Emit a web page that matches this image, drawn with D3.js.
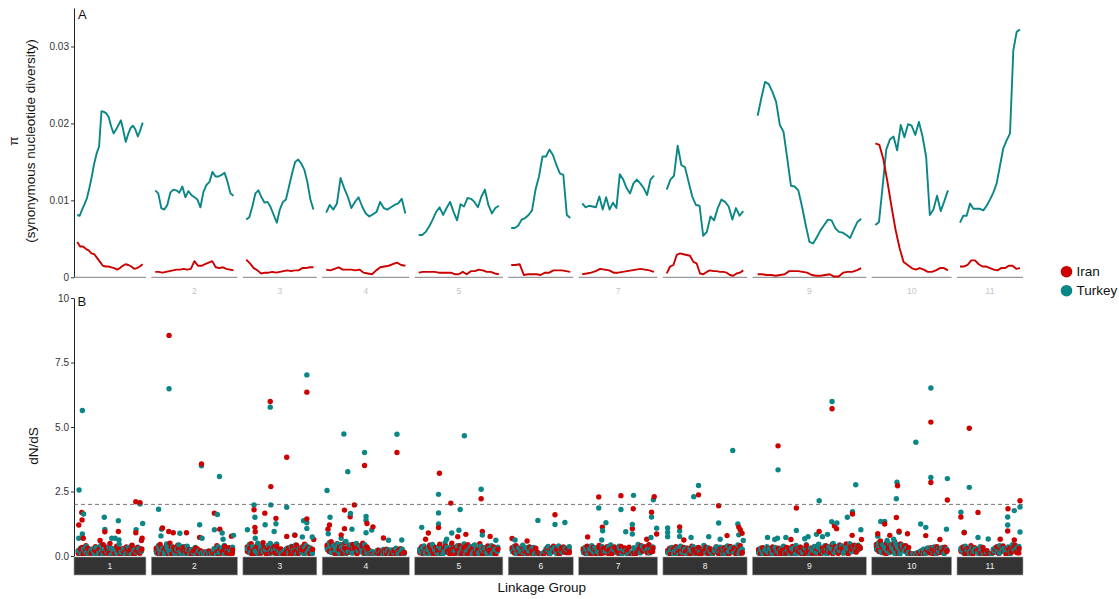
<!DOCTYPE html>
<html>
<head>
<meta charset="utf-8">
<script src="https://cdn.jsdelivr.net/npm/d3@7"></script>
<style>
  body { margin: 0; background: #fff; }
  svg { display: block; font-family: "Liberation Sans", Arial, Helvetica, sans-serif; }
</style>
</head>
<body>
<svg id="chart" width="1119" height="599"></svg>
<script>
// ---- Linkage groups (length in Mb) ----
const lgNames  = ["1","2","3","4","5","6","7","8","9","10","11"];
const lgLength = [21.8, 26.1, 22.4, 26.4, 26.7, 19.7, 23.9, 25.5, 34.5, 24.2, 20.0];
const stripTextA = ["2","3","4","5","7","9","10","11"];

// ---- Panel A: synonymous nucleotide diversity (pi) in sliding windows ----
const piTurkey = [
  [0.0081,0.0080,0.0088,0.0095,0.0103,0.0116,0.0131,0.0148,0.0161,0.0170,0.0216,0.0215,0.0213,0.0208,0.0196,0.0187,0.0192,0.0198,0.0204,0.0191,0.0176,0.0186,0.0194,0.0197,0.0192,0.0183,0.0191,0.0201],
  [0.0113,0.0109,0.0090,0.0088,0.0094,0.0110,0.0114,0.0113,0.0110,0.0118,0.0104,0.0112,0.0107,0.0104,0.0101,0.0091,0.0111,0.0120,0.0124,0.0137,0.0131,0.0131,0.0133,0.0136,0.0124,0.0109,0.0106],
  [0.0075,0.0078,0.0092,0.0109,0.0113,0.0104,0.0097,0.0098,0.0091,0.0081,0.0071,0.0088,0.0098,0.0101,0.0118,0.0135,0.0150,0.0153,0.0148,0.0140,0.0124,0.0101,0.0088],
  [0.0084,0.0094,0.0088,0.0096,0.0129,0.0116,0.0105,0.0090,0.0098,0.0104,0.0092,0.0083,0.0079,0.0082,0.0085,0.0098,0.0090,0.0088,0.0091,0.0094,0.0096,0.0102,0.0083],
  [0.0055,0.0055,0.0059,0.0066,0.0075,0.0085,0.0091,0.0081,0.0090,0.0098,0.0085,0.0074,0.0095,0.0092,0.0103,0.0102,0.0098,0.0091,0.0105,0.0114,0.0094,0.0083,0.0090,0.0093],
  [0.0064,0.0064,0.0067,0.0075,0.0077,0.0081,0.0087,0.0114,0.0131,0.0157,0.0157,0.0166,0.0159,0.0146,0.0135,0.0133,0.0081,0.0077],
  [0.0096,0.0091,0.0093,0.0092,0.0091,0.0105,0.0088,0.0104,0.0088,0.0097,0.0090,0.0134,0.0127,0.0116,0.0109,0.0122,0.0127,0.0122,0.0116,0.0107,0.0127,0.0132],
  [0.0114,0.0127,0.0132,0.0171,0.0146,0.0143,0.0124,0.0105,0.0094,0.0093,0.0054,0.0059,0.0079,0.0074,0.0090,0.0101,0.0098,0.0092,0.0075,0.0090,0.0080,0.0086],
  [0.0210,0.0233,0.0254,0.0251,0.0241,0.0228,0.0198,0.0189,0.0155,0.0119,0.0118,0.0113,0.0092,0.0068,0.0046,0.0044,0.0052,0.0061,0.0068,0.0075,0.0074,0.0064,0.0059,0.0058,0.0055,0.0051,0.0062,0.0072,0.0076],
  [0.0068,0.0072,0.0118,0.0166,0.0179,0.0183,0.0165,0.0198,0.0182,0.0199,0.0197,0.0185,0.0202,0.0183,0.0156,0.0081,0.0088,0.0106,0.0086,0.0099,0.0113],
  [0.0071,0.0080,0.0080,0.0096,0.0089,0.0089,0.0089,0.0087,0.0093,0.0101,0.0110,0.0122,0.0145,0.0168,0.0178,0.0187,0.0295,0.0319,0.0322]
];
const piIran = [
  [0.0046,0.0040,0.0040,0.0037,0.0035,0.0031,0.0030,0.0025,0.0020,0.0015,0.0014,0.0014,0.0013,0.0012,0.0010,0.0012,0.0015,0.0017,0.0016,0.0014,0.0011,0.0012,0.0014,0.0017],
  [0.0007,0.0007,0.0006,0.0007,0.0008,0.0009,0.0010,0.0010,0.0011,0.0010,0.0011,0.0021,0.0015,0.0015,0.0017,0.0019,0.0021,0.0013,0.0012,0.0013,0.0011,0.0010,0.0009],
  [0.0023,0.0018,0.0012,0.0009,0.0005,0.0006,0.0006,0.0007,0.0006,0.0007,0.0008,0.0009,0.0008,0.0009,0.0009,0.0012,0.0012,0.0013,0.0013],
  [0.0010,0.0009,0.0011,0.0013,0.0010,0.0010,0.0010,0.0009,0.0010,0.0006,0.0005,0.0004,0.0009,0.0013,0.0014,0.0015,0.0017,0.0019,0.0016,0.0015],
  [0.0006,0.0007,0.0007,0.0007,0.0007,0.0006,0.0006,0.0006,0.0006,0.0004,0.0004,0.0007,0.0004,0.0008,0.0008,0.0010,0.0009,0.0007,0.0007,0.0005,0.0004],
  [0.0016,0.0016,0.0017,0.0003,0.0004,0.0004,0.0004,0.0003,0.0006,0.0006,0.0009,0.0009,0.0009,0.0008,0.0007],
  [0.0004,0.0005,0.0006,0.0008,0.0011,0.0010,0.0009,0.0006,0.0006,0.0007,0.0008,0.0009,0.0010,0.0011,0.0010,0.0009,0.0007],
  [0.0005,0.0014,0.0016,0.0029,0.0031,0.0030,0.0029,0.0028,0.0020,0.0018,0.0005,0.0004,0.0007,0.0009,0.0008,0.0008,0.0007,0.0007,0.0006,0.0003,0.0002,0.0005,0.0006,0.0009],
  [0.0004,0.0004,0.0003,0.0003,0.0002,0.0003,0.0004,0.0008,0.0008,0.0008,0.0007,0.0006,0.0003,0.0002,0.0002,0.0003,0.0004,0.0001,0.0001,0.0006,0.0007,0.0007,0.0009,0.0012],
  [0.0174,0.0172,0.0153,0.0124,0.0092,0.0062,0.0038,0.0020,0.0016,0.0012,0.0010,0.0012,0.0010,0.0007,0.0007,0.0009,0.0012,0.0012,0.0009],
  [0.0014,0.0014,0.0016,0.0022,0.0022,0.0017,0.0014,0.0014,0.0012,0.0010,0.0009,0.0012,0.0012,0.0015,0.0015,0.0011,0.0012]
];
const piTicks = [0, 0.01, 0.02, 0.03];
const piTickLabels = ["0", "0.01", "0.02", "0.03"];

// ---- Panel B: per-gene dN/dS, bulk of genes (low values) in gene order ----
const lowIran = [
  [0.21,0.05,0.33,0.12,0.40,0.08,0.26,0.15,0.02,0.36,0.18,0.29,0.07,0.44,0.13,0.24,0.03,0.31,0.19,0.10,0.38,0.22,0.06,0.28,0.14,0.35,0.09,0.25,0.42,0.04,0.17,0.32,0.11,0.27],
  [0.30,0.12,0.45,0.06,0.25,0.38,0.15,0.50,0.09,0.33,0.21,0.42,0.04,0.28,0.17,0.36,0.11,0.24,0.07,0.19,0.13,0.27,0.05,0.16,0.10,0.16,0.08,0.20,0.05,0.14,0.09,0.40,0.03,0.26,0.18,0.37,0.12,0.32,0.06,0.23],
  [0.35,0.14,0.48,0.22,0.06,0.40,0.28,0.11,0.52,0.19,0.33,0.08,0.44,0.25,0.15,0.38,0.04,0.27,0.12,0.09,0.20,0.31,0.07,0.36,0.17,0.42,0.10,0.29,0.23,0.46,0.13,0.34,0.05,0.26],
  [0.42,0.18,0.55,0.30,0.10,0.48,0.25,0.37,0.06,0.52,0.21,0.33,0.14,0.45,0.28,0.09,0.40,0.19,0.50,0.12,0.35,0.23,0.04,0.08,0.03,0.15,0.22,0.07,0.18,0.12,0.26,0.05,0.20,0.14,0.24,0.09,0.17,0.28,0.06,0.13],
  [0.20,0.36,0.08,0.28,0.15,0.42,0.24,0.05,0.33,0.18,0.46,0.11,0.29,0.38,0.14,0.25,0.50,0.09,0.34,0.21,0.40,0.07,0.31,0.17,0.44,0.12,0.27,0.37,0.04,0.22,0.48,0.16,0.32,0.10,0.39,0.23,0.13,0.35,0.06,0.26],
  [0.32,0.15,0.40,0.24,0.08,0.36,0.19,0.28,0.11,0.34,0.22,0.05,0.30,0.14,0.06,0.03,0.09,0.20,0.33,0.12,0.27,0.38,0.16,0.31,0.07,0.25,0.35,0.18,0.29,0.13],
  [0.28,0.12,0.38,0.20,0.06,0.33,0.24,0.15,0.41,0.09,0.30,0.18,0.36,0.04,0.26,0.14,0.32,0.21,0.08,0.37,0.17,0.29,0.11,0.34,0.05,0.10,0.03,0.13,0.27,0.40,0.19,0.35,0.23,0.44,0.16,0.31],
  [0.15,0.30,0.06,0.24,0.36,0.12,0.20,0.04,0.33,0.18,0.27,0.09,0.38,0.14,0.22,0.31,0.07,0.25,0.16,0.34,0.11,0.28,0.03,0.19,0.35,0.13,0.26,0.08,0.32,0.21,0.10,0.37,0.17,0.29,0.05,0.23,0.40,0.14],
  [0.25,0.10,0.32,0.18,0.05,0.28,0.14,0.35,0.21,0.08,0.30,0.16,0.26,0.03,0.33,0.12,0.22,0.37,0.09,0.27,0.19,0.34,0.06,0.24,0.40,0.15,0.29,0.11,0.36,0.20,0.43,0.07,0.31,0.17,0.39,0.25,0.13,0.45,0.22,0.33,0.10,0.41,0.28,0.18,0.47,0.08,0.35,0.26,0.42,0.15,0.38,0.30],
  [0.45,0.22,0.58,0.35,0.12,0.50,0.28,0.40,0.16,0.55,0.31,0.08,0.47,0.25,0.38,0.19,0.33,0.10,0.06,0.04,0.09,0.14,0.05,0.20,0.11,0.27,0.16,0.32,0.08,0.23,0.36,0.13,0.29,0.18,0.34,0.21],
  [0.22,0.35,0.10,0.28,0.16,0.40,0.07,0.31,0.19,0.25,0.12,0.33,0.05,0.21,0.08,0.03,0.14,0.27,0.36,0.11,0.24,0.39,0.17,0.30,0.06,0.34,0.20,0.42,0.13,0.29]
];
const lowTurkey = [
  [0.14,0.30,0.04,0.22,0.37,0.09,0.18,0.27,0.02,0.33,0.12,0.41,0.07,0.25,0.16,0.35,0.05,0.20,0.29,0.10,0.46,0.15,0.24,0.03,0.31,0.13,0.38,0.08,0.21,0.34,0.11,0.26],
  [0.18,0.40,0.08,0.29,0.14,0.47,0.22,0.05,0.35,0.12,0.26,0.43,0.09,0.31,0.17,0.38,0.03,0.24,0.13,0.33,0.07,0.20,0.11,0.15,0.06,0.18,0.09,0.12,0.28,0.04,0.36,0.16,0.25,0.41,0.10,0.30,0.19,0.34],
  [0.24,0.45,0.09,0.32,0.17,0.50,0.13,0.39,0.27,0.06,0.41,0.20,0.34,0.11,0.47,0.16,0.05,0.14,0.22,0.30,0.08,0.37,0.19,0.43,0.12,0.28,0.35,0.07,0.40,0.18,0.31,0.10],
  [0.30,0.52,0.14,0.40,0.22,0.47,0.08,0.35,0.26,0.56,0.17,0.43,0.11,0.31,0.49,0.20,0.38,0.13,0.44,0.27,0.09,0.05,0.02,0.12,0.21,0.06,0.16,0.25,0.10,0.19,0.03,0.23,0.14,0.30,0.08,0.18,0.26,0.11],
  [0.27,0.10,0.39,0.19,0.33,0.05,0.45,0.23,0.14,0.36,0.28,0.08,0.52,0.17,0.31,0.41,0.12,0.25,0.37,0.03,0.30,0.47,0.16,0.21,0.35,0.09,0.43,0.26,0.13,0.38,0.20,0.32,0.07,0.29,0.40,0.15,0.24,0.34],
  [0.22,0.38,0.10,0.30,0.17,0.42,0.26,0.06,0.35,0.20,0.33,0.13,0.04,0.08,0.02,0.15,0.28,0.37,0.11,0.24,0.32,0.09,0.39,0.21,0.14,0.30,0.25,0.36],
  [0.19,0.34,0.07,0.27,0.40,0.14,0.31,0.22,0.05,0.36,0.17,0.29,0.10,0.43,0.24,0.33,0.13,0.38,0.08,0.26,0.20,0.02,0.07,0.15,0.32,0.21,0.45,0.12,0.37,0.28,0.18,0.41,0.25,0.35],
  [0.22,0.09,0.33,0.17,0.27,0.05,0.38,0.14,0.25,0.31,0.10,0.20,0.36,0.07,0.29,0.15,0.24,0.41,0.12,0.32,0.18,0.04,0.26,0.35,0.11,0.21,0.30,0.08,0.39,0.16,0.28,0.34,0.13,0.43,0.19,0.26],
  [0.16,0.30,0.07,0.23,0.36,0.12,0.27,0.04,0.33,0.19,0.10,0.29,0.38,0.14,0.25,0.06,0.31,0.21,0.41,0.11,0.34,0.17,0.26,0.44,0.09,0.30,0.22,0.37,0.13,0.46,0.24,0.18,0.40,0.08,0.35,0.28,0.49,0.15,0.32,0.43,0.20,0.11,0.38,0.27,0.48,0.16,0.34,0.23,0.42,0.31],
  [0.36,0.52,0.18,0.44,0.29,0.60,0.13,0.40,0.24,0.48,0.33,0.07,0.42,0.21,0.30,0.15,0.05,0.03,0.08,0.12,0.04,0.18,0.26,0.10,0.31,0.14,0.22,0.35,0.09,0.28,0.17,0.33,0.12,0.25],
  [0.30,0.14,0.38,0.22,0.06,0.33,0.18,0.27,0.10,0.36,0.24,0.04,0.15,0.02,0.09,0.26,0.32,0.13,0.40,0.20,0.29,0.08,0.35,0.17,0.44,0.23,0.31,0.37]
];
// remaining low-dN/dS genes of each group, also in gene order
const lowIran2 = [
  [0.10,0.25,0.06,0.18,0.30,0.13,0.03,0.22,0.15,0.28,0.08,0.19,0.34,0.11,0.24,0.05,0.17,0.29,0.12,0.21,0.07,0.26,0.16,0.32,0.09,0.20,0.14,0.23],
  [0.22,0.09,0.31,0.16,0.26,0.05,0.35,0.13,0.20,0.28,0.10,0.33,0.18,0.07,0.24,0.14,0.30,0.11,0.21,0.06,0.12,0.04,0.09,0.13,0.07,0.19,0.27,0.12,0.23,0.16,0.29,0.10],
  [0.17,0.30,0.08,0.25,0.38,0.12,0.21,0.33,0.06,0.27,0.15,0.36,0.10,0.23,0.18,0.07,0.13,0.26,0.20,0.31,0.09,0.24,0.14,0.34,0.19,0.28,0.11,0.22],
  [0.35,0.16,0.44,0.26,0.08,0.38,0.21,0.31,0.13,0.42,0.24,0.34,0.11,0.29,0.40,0.18,0.33,0.05,0.02,0.10,0.16,0.06,0.13,0.21,0.09,0.17,0.04,0.19,0.11,0.23,0.07,0.15],
  [0.13,0.27,0.05,0.21,0.34,0.17,0.09,0.30,0.23,0.14,0.38,0.19,0.07,0.26,0.32,0.11,0.22,0.16,0.35,0.08,0.25,0.29,0.12,0.20,0.36,0.06,0.18,0.28,0.15,0.24,0.10,0.31],
  [0.24,0.11,0.30,0.18,0.06,0.27,0.15,0.33,0.09,0.21,0.04,0.07,0.02,0.12,0.22,0.08,0.29,0.16,0.25,0.10,0.31,0.19,0.13,0.26],
  [0.21,0.09,0.30,0.15,0.26,0.05,0.33,0.18,0.12,0.28,0.22,0.07,0.35,0.16,0.24,0.10,0.31,0.19,0.06,0.03,0.08,0.14,0.27,0.20,0.34,0.12,0.25,0.17],
  [0.20,0.08,0.26,0.14,0.31,0.05,0.22,0.17,0.28,0.10,0.24,0.13,0.33,0.07,0.19,0.27,0.11,0.23,0.15,0.30,0.04,0.21,0.12,0.26,0.09,0.18,0.29,0.14,0.24,0.11],
  [0.18,0.07,0.24,0.13,0.29,0.09,0.20,0.15,0.26,0.04,0.22,0.11,0.30,0.17,0.08,0.25,0.19,0.12,0.28,0.06,0.23,0.16,0.32,0.10,0.27,0.21,0.14,0.34,0.18,0.25,0.09,0.36,0.20,0.29,0.13,0.38,0.24,0.17,0.33,0.27,0.22,0.35],
  [0.33,0.17,0.42,0.26,0.09,0.38,0.21,0.46,0.30,0.14,0.36,0.24,0.40,0.19,0.05,0.03,0.07,0.02,0.10,0.15,0.06,0.22,0.12,0.26,0.09,0.19,0.28,0.14,0.24,0.17],
  [0.17,0.28,0.08,0.23,0.13,0.32,0.19,0.26,0.10,0.21,0.05,0.09,0.03,0.15,0.24,0.11,0.29,0.18,0.06,0.25,0.14,0.31,0.20,0.12]
];
const lowTurkey2 = [
  [0.20,0.08,0.27,0.13,0.04,0.23,0.16,0.31,0.10,0.19,0.06,0.25,0.14,0.29,0.09,0.21,0.03,0.17,0.26,0.12,0.33,0.07,0.22,0.15,0.28,0.18],
  [0.12,0.27,0.19,0.06,0.32,0.15,0.24,0.09,0.29,0.17,0.36,0.08,0.22,0.13,0.26,0.04,0.20,0.11,0.08,0.14,0.05,0.10,0.18,0.25,0.13,0.31,0.07,0.21,0.28,0.15],
  [0.28,0.13,0.36,0.20,0.07,0.31,0.17,0.25,0.40,0.11,0.22,0.29,0.05,0.10,0.18,0.26,0.13,0.33,0.21,0.08,0.27,0.15,0.35,0.12,0.24,0.19],
  [0.24,0.40,0.12,0.33,0.19,0.45,0.27,0.09,0.36,0.21,0.30,0.15,0.38,0.25,0.06,0.13,0.03,0.18,0.09,0.22,0.12,0.05,0.16,0.24,0.10,0.20,0.07,0.14,0.21,0.11],
  [0.19,0.31,0.09,0.24,0.14,0.37,0.22,0.06,0.28,0.17,0.33,0.11,0.26,0.20,0.40,0.13,0.30,0.07,0.23,0.35,0.16,0.27,0.10,0.32,0.21,0.15,0.29,0.08,0.25,0.18],
  [0.16,0.28,0.08,0.23,0.13,0.32,0.19,0.26,0.06,0.11,0.03,0.08,0.17,0.24,0.12,0.30,0.20,0.09,0.27,0.14,0.22,0.18],
  [0.13,0.26,0.08,0.22,0.31,0.16,0.04,0.28,0.19,0.34,0.11,0.24,0.17,0.30,0.09,0.21,0.05,0.10,0.02,0.14,0.27,0.18,0.33,0.23,0.12,0.29],
  [0.12,0.25,0.07,0.19,0.30,0.14,0.22,0.04,0.27,0.16,0.09,0.32,0.18,0.24,0.11,0.28,0.06,0.20,0.15,0.34,0.10,0.23,0.17,0.29,0.13,0.21,0.08,0.26],
  [0.11,0.22,0.05,0.19,0.27,0.14,0.08,0.25,0.17,0.31,0.10,0.21,0.13,0.28,0.06,0.24,0.18,0.12,0.30,0.20,0.09,0.26,0.16,0.33,0.23,0.11,0.29,0.19,0.36,0.14,0.27,0.22,0.39,0.17,0.31,0.25,0.34,0.20,0.41,0.28],
  [0.25,0.41,0.13,0.34,0.20,0.47,0.28,0.10,0.38,0.22,0.32,0.16,0.06,0.04,0.09,0.02,0.13,0.20,0.07,0.25,0.15,0.29,0.11,0.23,0.18,0.30,0.09,0.21],
  [0.24,0.10,0.30,0.17,0.06,0.26,0.14,0.21,0.08,0.04,0.11,0.02,0.19,0.27,0.12,0.33,0.16,0.23,0.09,0.29,0.18,0.25]
];

// ---- Panel B: genes with elevated dN/dS  [linkage group, position (Mb), population, dN/dS] ----
const highGenes = [
  [1,0.5,"T",0.69],[1,0.5,"I",1.20],[1,0.6,"T",2.56],[1,1.7,"T",5.64],[1,1.6,"I",1.40],[1,1.5,"I",1.69],[1,2.1,"T",1.63],[1,1.7,"T",0.85],[1,2.0,"I",0.69],[1,7.6,"I",0.60],[1,9.0,"T",1.50],[1,9.2,"T",1.03],[1,9.2,"I",0.94],[1,10.9,"I",0.49],[1,11.5,"T",0.69],[1,12.6,"T",0.69],[1,13.7,"T",1.37],[1,13.7,"I",0.95],[1,13.9,"T",0.62],[1,19.6,"T",1.02],[1,19.5,"I",0.90],[1,19.5,"I",2.10],[1,20.9,"T",2.02],[1,20.9,"I",2.07],[1,21.8,"T",1.26],[1,21.6,"I",0.69],[1,21.4,"I",0.60],
  [2,1.1,"T",1.81],[2,1.9,"T",0.78],[2,2.1,"T",1.04],[2,2.4,"I",1.09],[2,4.6,"T",6.48],[2,4.6,"I",8.55],[2,4.5,"I",0.95],[2,6.0,"I",0.90],[2,8.2,"T",0.88],[2,10.4,"I",0.90],[2,14.8,"T",1.21],[2,14.8,"I",0.72],[2,15.6,"T",0.69],[2,15.4,"T",3.50],[2,15.4,"I",3.57],[2,19.7,"T",1.02],[2,19.7,"I",1.66],[2,20.7,"T",1.61],[2,21.4,"T",3.08],[2,21.5,"I",1.04],[2,22.3,"T",0.89],[2,22.6,"T",0.65],[2,25.4,"I",0.77],[2,26.1,"T",0.80],
  [3,0.4,"T",1.02],[3,2.6,"T",1.98],[3,2.6,"I",1.79],[3,2.9,"T",1.50],[3,2.9,"I",1.11],[3,3.0,"I",0.94],[3,3.0,"T",0.69],[3,6.2,"I",1.66],[3,6.3,"T",1.21],[3,8.0,"T",5.77],[3,8.0,"I",5.99],[3,8.2,"T",1.98],[3,8.2,"I",2.69],[3,8.0,"T",0.49],[3,9.3,"T",0.95],[3,9.9,"T",1.25],[3,9.9,"I",1.46],[3,13.5,"T",1.89],[3,13.5,"I",3.83],[3,13.5,"I",0.76],[3,16.2,"T",0.82],[3,16.2,"I",0.80],[3,18.7,"T",0.74],[3,19.1,"T",1.37],[3,20.2,"T",1.29],[3,20.2,"T",1.07],[3,20.2,"I",1.44],[3,20.2,"T",7.02],[3,20.2,"I",6.35],[3,22.5,"I",0.64],[3,22.0,"T",0.74],
  [4,0.3,"T",2.54],[4,0.6,"I",1.04],[4,0.7,"T",0.86],[4,1.1,"I",1.20],[4,1.3,"T",1.50],[4,5.0,"T",0.69],[4,5.0,"I",0.82],[4,6.1,"I",1.06],[4,6.1,"I",1.78],[4,5.9,"T",4.73],[4,7.2,"T",3.27],[4,8.0,"I",1.52],[4,8.1,"T",1.65],[4,8.6,"T",1.04],[4,9.4,"I",1.98],[4,12.8,"T",4.01],[4,12.8,"I",3.51],[4,13.3,"T",1.53],[4,13.3,"T",1.39],[4,13.6,"I",1.26],[4,13.3,"T",0.90],[4,15.2,"T",1.01],[4,15.6,"I",1.13],[4,19.1,"I",0.70],[4,20.8,"T",0.61],[4,23.6,"T",4.72],[4,23.6,"I",4.01],[4,25.2,"T",0.62],
  [5,1.0,"T",1.11],[5,2.3,"I",0.65],[5,3.2,"I",0.89],[5,6.6,"T",1.24],[5,6.6,"I",1.10],[5,6.6,"T",1.67],[5,6.6,"T",2.39],[5,6.9,"I",3.21],[5,9.3,"T",0.65],[5,11.0,"T",0.89],[5,10.7,"I",2.05],[5,13.0,"I",0.75],[5,13.4,"T",1.00],[5,13.8,"T",1.80],[5,15.2,"T",4.66],[5,15.7,"I",0.84],[5,20.8,"T",2.59],[5,20.8,"I",2.22],[5,21.2,"I",0.95],[5,21.2,"T",0.81],[5,23.8,"I",0.76],[5,25.7,"T",0.61],
  [6,0.3,"I",0.68],[6,1.3,"T",0.62],[6,5.3,"I",0.58],[6,8.9,"T",1.38],[6,14.6,"T",1.22],[6,14.6,"I",1.60],[6,17.9,"T",1.30],
  [7,1.8,"I",0.74],[7,5.5,"T",1.86],[7,5.5,"I",2.29],[7,6.5,"T",0.62],[7,6.7,"I",1.12],[7,6.8,"T",0.98],[7,7.9,"T",1.29],[7,12.9,"T",1.80],[7,12.9,"I",2.34],[7,14.5,"T",0.94],[7,16.7,"T",0.85],[7,16.7,"I",1.06],[7,16.7,"T",1.22],[7,17.0,"I",1.83],[7,17.1,"T",2.35],[7,21.5,"I",0.65],[7,22.9,"T",0.72],[7,23.1,"T",1.51],[7,23.1,"I",1.70],[7,23.7,"T",2.18],[7,24.0,"I",2.30],[7,24.8,"I",0.85],[7,24.8,"T",1.08],
  [8,0.3,"T",0.75],[8,0.3,"T",0.91],[8,0.3,"T",1.09],[8,4.3,"T",0.76],[8,4.3,"T",0.97],[8,4.3,"I",1.13],[8,5.7,"I",0.62],[8,8.1,"T",0.72],[8,9.0,"T",2.30],[8,10.6,"I",2.37],[8,10.6,"T",2.73],[8,14.0,"T",0.75],[8,17.8,"T",0.65],[8,17.3,"T",1.28],[8,17.3,"I",1.95],[8,20.1,"I",0.79],[8,22.0,"T",4.09],[8,23.7,"T",1.24],[8,24.0,"T",0.82],[8,24.0,"I",1.12],[8,24.5,"I",1.02],[8,25.1,"I",0.88],[8,25.5,"T",0.60],
  [9,3.3,"T",0.72],[9,5.7,"T",0.64],[9,6.6,"T",0.69],[9,6.8,"T",3.34],[9,6.8,"I",4.27],[9,9.4,"T",0.72],[9,11.1,"I",0.64],[9,12.9,"T",0.99],[9,12.9,"I",1.86],[9,15.7,"T",0.67],[9,16.8,"T",0.75],[9,19.6,"T",0.84],[9,20.5,"T",2.14],[9,20.5,"I",0.95],[9,21.6,"T",0.75],[9,23.3,"T",0.84],[9,24.7,"T",1.33],[9,24.8,"T",5.99],[9,24.8,"I",5.71],[9,25.6,"I",1.16],[9,26.3,"I",1.06],[9,26.4,"T",1.28],[9,29.9,"T",1.50],[9,31.6,"T",1.72],[9,31.6,"I",1.63],[9,31.5,"I",0.80],[9,32.7,"T",2.76],[9,34.4,"T",1.02],[9,34.6,"I",0.64],
  [10,0.8,"T",0.77],[10,0.8,"I",0.86],[10,1.8,"T",1.34],[10,3.1,"T",1.34],[10,3.1,"I",1.24],[10,4.8,"I",0.80],[10,6.1,"T",0.65],[10,7.0,"T",2.22],[10,7.0,"I",1.49],[10,7.2,"T",2.86],[10,7.4,"I",2.72],[10,7.9,"T",0.92],[10,7.9,"I",0.96],[10,10.7,"I",0.86],[10,13.5,"T",4.41],[10,15.1,"T",1.24],[10,16.8,"T",1.11],[10,16.8,"I",0.79],[10,18.5,"T",6.51],[10,18.5,"I",5.19],[10,18.5,"T",3.04],[10,18.5,"I",2.85],[10,21.5,"I",0.64],[10,23.7,"T",1.04],[10,24.0,"T",3.00],[10,24.0,"I",2.17],
  [11,0.3,"T",1.70],[11,0.3,"I",1.51],[11,1.4,"T",0.92],[11,1.4,"I",0.90],[11,3.1,"T",2.66],[11,3.1,"I",4.95],[11,6.0,"T",0.72],[11,6.0,"I",1.69],[11,9.4,"T",0.66],[11,13.4,"I",0.65],[11,15.9,"T",1.20],[11,15.9,"I",0.97],[11,15.9,"T",1.51],[11,16.0,"I",1.83],[11,18.1,"T",1.76],[11,18.1,"I",0.62],[11,20.0,"T",0.93],[11,20.0,"T",1.90],[11,20.0,"I",2.14]
];
const dndsTicks = [0, 2.5, 5, 7.5, 10];
const dndsTickLabels = ["0.0", "2.5", "5.0", "7.5", "10"];
const dndsThreshold = 2;

const populations = ["Iran", "Turkey"];
const popColor = { Iran: "#cd0000", Turkey: "#0b8686" };
const popCode = { I: "Iran", T: "Turkey" };

// ---- Layout ----
const svg = d3.select("#chart");
const plotLeft = 74, plotRight = 1023, panelGap = 5.4;
const totalSpan = d3.sum(lgLength, l => l * 1.1);
const pxPerMb = (plotRight - plotLeft - panelGap * (lgLength.length - 1)) / totalSpan;

let cursor = plotLeft;
const facets = lgLength.map((len, i) => {
  const w = len * 1.1 * pxPerMb;
  const f = {
    name: lgNames[i], len, x0: cursor, w,
    x: d3.scaleLinear().domain([-0.05 * len, 1.05 * len]).range([cursor, cursor + w])
  };
  cursor += w + panelGap;
  return f;
});

function styleAxis(g) {
  g.select(".domain").attr("stroke", "#222").attr("stroke-width", 1);
  g.selectAll(".tick line").attr("stroke", "#333");
  g.selectAll(".tick text").attr("fill", "#333").attr("font-size", 10)
    .attr("font-family", "Liberation Sans, Arial, sans-serif");
}

// ================= Panel A =================
const yA = d3.scaleLinear().domain([0, 0.035]).range([277.3, 8]);
const gA = svg.append("g");

gA.append("g")
  .attr("transform", `translate(${plotLeft},0)`)
  .call(d3.axisLeft(yA).tickValues(piTicks).tickFormat((d, i) => piTickLabels[i]).tickSize(3).tickSizeOuter(0).tickPadding(2))
  .call(styleAxis);

// per-group baseline
gA.selectAll("line.base").data(facets).join("line")
  .attr("x1", f => f.x0).attr("x2", f => f.x0 + f.w)
  .attr("y1", yA(0)).attr("y2", yA(0))
  .attr("stroke", "#808080").attr("stroke-width", 1);

// group labels under panel A
gA.selectAll("text.stripA").data(facets.filter(f => stripTextA.includes(f.name))).join("text")
  .attr("x", f => f.x0 + f.w / 2).attr("y", 294)
  .attr("text-anchor", "middle").attr("font-size", 8.5).attr("fill", "#c4c4c4")
  .text(f => f.name);

const piSeries = { Iran: piIran, Turkey: piTurkey };
facets.forEach((f, i) => {
  ["Turkey", "Iran"].forEach(pop => {
    const vals = piSeries[pop][i];
    const n = vals.length;
    const line = d3.line()
      .x((d, j) => f.x(j / (n - 1) * f.len))
      .y(d => yA(d));
    gA.append("path").datum(vals)
      .attr("d", line)
      .attr("fill", "none")
      .attr("stroke", popColor[pop])
      .attr("stroke-width", 1.9)
      .attr("stroke-linejoin", "round");
  });
});

gA.append("text").attr("x", 78).attr("y", 19).attr("font-size", 13).attr("fill", "#111").text("A");

const yLabA = svg.append("g").attr("transform", "translate(0,141) rotate(-90)");
yLabA.append("text").attr("x", 0).attr("y", 18).attr("text-anchor", "middle").attr("font-size", 13.5).attr("fill", "#111").text("π");
yLabA.append("text").attr("x", 0).attr("y", 35).attr("text-anchor", "middle").attr("font-size", 13.5).attr("fill", "#111").text("(synonymous nucleotide diversity)");

// ================= Panel B =================
const yB = d3.scaleLinear().domain([0, 10]).range([556, 298]);
const gB = svg.append("g");

svg.append("defs").append("clipPath").attr("id", "clipB")
  .append("rect").attr("x", plotLeft - 3).attr("y", 290).attr("width", plotRight - plotLeft + 6).attr("height", yB(0) - 290);

gB.append("g")
  .attr("transform", `translate(${plotLeft},0)`)
  .call(d3.axisLeft(yB).tickValues(dndsTicks).tickFormat((d, i) => dndsTickLabels[i]).tickSize(3).tickSizeOuter(0).tickPadding(2))
  .call(styleAxis);

// all genes, bulk first (interleaved by position), elevated ones on top
const genePoints = [];
facets.forEach((f, i) => {
  const bulk = [];
  [["Iran", lowIran[i]], ["Turkey", lowTurkey[i]], ["Iran", lowIran2[i]], ["Turkey", lowTurkey2[i]]].forEach(([pop, vals]) => {
    vals.forEach((v, j) => bulk.push({ f, pos: (j + 0.5) / vals.length * f.len, pop, v }));
  });
  bulk.sort((a, b) => a.pos - b.pos);
  genePoints.push(...bulk);
});
highGenes.forEach(([lg, pos, code, v]) => {
  genePoints.push({ f: facets[lg - 1], pos, pop: popCode[code], v });
});

gB.append("g").attr("clip-path", "url(#clipB)")
  .selectAll("circle").data(genePoints).join("circle")
  .attr("cx", d => d.f.x(d.pos))
  .attr("cy", d => yB(d.v))
  .attr("r", 2.7)
  .attr("fill", d => popColor[d.pop]);

// threshold
gB.append("line")
  .attr("x1", plotLeft).attr("x2", plotRight)
  .attr("y1", yB(dndsThreshold)).attr("y2", yB(dndsThreshold))
  .attr("stroke", "#555").attr("stroke-width", 0.8).attr("stroke-dasharray", "4,3");

// strips
const strips = gB.selectAll("g.strip").data(facets).join("g");
strips.append("rect")
  .attr("x", f => f.x0).attr("y", 557).attr("width", f => f.w).attr("height", 18)
  .attr("fill", "#333333").attr("stroke", "#a0a0a0").attr("stroke-width", 0.6);
strips.append("text")
  .attr("x", f => f.x0 + f.w / 2).attr("y", 569.3)
  .attr("text-anchor", "middle").attr("font-size", 8.5).attr("fill", "#f0f0f0")
  .text(f => f.name);

gB.append("text").attr("x", 77.5).attr("y", 306).attr("font-size", 13).attr("fill", "#111").text("B");

svg.append("text").attr("transform", "translate(38,446) rotate(-90)")
  .attr("text-anchor", "middle").attr("font-size", 13.5).attr("fill", "#111").text("dN/dS");

svg.append("text").attr("x", 541.7).attr("y", 592)
  .attr("text-anchor", "middle").attr("font-size", 13.5).attr("fill", "#111").text("Linkage Group");

// legend
const legend = svg.append("g").attr("transform", "translate(1066.5,271.7)");
const items = legend.selectAll("g").data(populations).join("g")
  .attr("transform", (d, i) => `translate(0,${i * 19})`);
items.append("circle").attr("r", 5.8).attr("fill", d => popColor[d]);
items.append("text").attr("x", 10).attr("dy", "0.35em").attr("font-size", 13.5).attr("fill", "#111").text(d => d);
</script>
</body>
</html>
